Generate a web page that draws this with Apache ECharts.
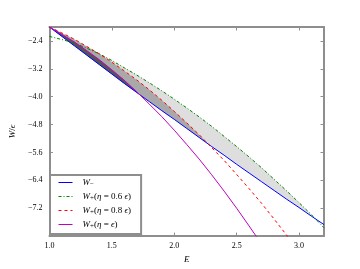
<!DOCTYPE html>
<html><head><meta charset="utf-8">
<script src="https://cdn.jsdelivr.net/npm/echarts@6/dist/echarts.min.js"></script>
<style>html,body{margin:0;padding:0;background:#fff}#c{width:360px;height:269px}</style>
</head><body><div id="c"></div>
<script>
// Energy grid E
const energy = [1.0,1.1,1.2,1.3,1.4,1.5,1.6,1.7,1.8,1.9,2.0,2.1,2.2,2.3,2.4,2.5,2.6,2.7,2.8,2.9,3.0,3.1,3.2];
// W_- / eps
const wMinus = [-2.00,-2.27,-2.54,-2.81,-3.08,-3.35,-3.62,-3.88,-4.14,-4.40,-4.65,-4.91,-5.17,-5.43,-5.68,-5.94,-6.19,-6.44,-6.69,-6.94,-7.18,-7.43,-7.67];
// W_+ (eta = 0.6 eps)
const wPlus06 = [-2.27,-2.36,-2.46,-2.61,-2.77,-2.96,-3.17,-3.38,-3.60,-3.83,-4.07,-4.32,-4.58,-4.85,-5.14,-5.43,-5.73,-6.04,-6.37,-6.70,-7.04,-7.39,-7.76];
// W_+ (eta = 0.8 eps)
const wPlus08 = [-2.00,-2.17,-2.35,-2.56,-2.77,-3.01,-3.26,-3.52,-3.80,-4.10,-4.42,-4.75,-5.09,-5.46,-5.83,-6.23,-6.64,-7.06,-7.51,-7.97,-8.45];
// W_+ (eta = eps)
const wPlus1 = [-2.00,-2.21,-2.43,-2.68,-2.94,-3.23,-3.53,-3.86,-4.21,-4.57,-4.96,-5.37,-5.79,-6.24,-6.71,-7.20,-7.71,-8.23];
// tick settings
const xTicks = {min:1.0, max:3.2, interval:0.5};
const yTicks = {min:-8.0, max:-2.0, interval:0.8};

const FONT = 'Liberation Serif';
const FRAME = '#8e8e8e';

function pairs(v){ return v.map((y,i)=>[energy[i], y]); }
function band(upper, lower){
  const n = Math.min(upper.length, lower.length);
  const top = [];
  for(let i=0;i<n;i++){
    const du = upper[i]-lower[i];
    top.push([energy[i], Math.max(upper[i], lower[i])]);
    if(i<n-1){
      const dn = upper[i+1]-lower[i+1];
      if(du!==0 && dn!==0 && (du>0)!==(dn>0)){
        const t = du/(du-dn);
        top.push([energy[i]+t*(energy[i+1]-energy[i]), lower[i]+t*(lower[i+1]-lower[i])]);
      }
    }
  }
  const bottom = [];
  for(let i=n-1;i>=0;i--) bottom.push([energy[i], lower[i]]);
  return top.concat(bottom);
}
function fillSeries(upper, color){
  const poly = band(upper, wMinus);
  return {
    type:'custom', coordinateSystem:'cartesian2d', silent:true, z:1, clip:true,
    data:[[energy[0], wMinus[0]]],
    renderItem:(params, api)=>({type:'polygon', shape:{points: poly.map(p=>api.coord(p))}, style:{fill:color}})
  };
}
function lineSeries(name, vals, color, type){
  return {name, type:'line', data:pairs(vals), symbol:'none', z:3, clip:true,
    lineStyle:{color, width:1, type}, itemStyle:{color}};
}
const rich = {
  i:{fontFamily:FONT, fontStyle:'italic', fontSize:9, color:'#000'},
  n:{fontFamily:FONT, fontSize:9, color:'#000'},
  s:{fontFamily:FONT, fontSize:7, color:'#000', verticalAlign:'bottom', padding:[4,0,0,0]}
};
const legendLabels = {
  'Wm':'{i|W}{s|−}',
  'W06':'{i|W}{s|+}{n|(}{i|η}{n| = 0.6 }{i|ϵ}{n|)}',
  'W08':'{i|W}{s|+}{n|(}{i|η}{n| = 0.8 }{i|ϵ}{n|)}',
  'W1':'{i|W}{s|+}{n|(}{i|η}{n| = }{i|ϵ}{n|)}'
};
const axisCommon = {
  type:'value', splitLine:{show:false},
  axisLine:{show:true, onZero:false, lineStyle:{color:FRAME, width:2}},
  axisTick:{show:true, inside:true, length:3.5, lineStyle:{color:FRAME, width:1}}
};
const chart = echarts.init(document.getElementById('c'), null, {renderer:'canvas'});
chart.setOption({
  animation:false,
  backgroundColor:'#fff',
  grid:{left:45, right:36, top:27, bottom:27},
  xAxis:[
    Object.assign({}, axisCommon, xTicks, {position:'bottom',
      axisLabel:{fontFamily:FONT, fontSize:8, color:'#000', margin:6, showMaxLabel:false,
        formatter:v=>v.toFixed(1)},
      name:'E', nameLocation:'middle', nameGap:16,
      nameTextStyle:{fontFamily:FONT, fontStyle:'italic', fontSize:9, color:'#000'}}),
    Object.assign({}, axisCommon, xTicks, {position:'top', axisLabel:{show:false}})
  ],
  yAxis:[
    Object.assign({}, axisCommon, yTicks, {position:'left',
      axisLabel:{fontFamily:FONT, fontSize:8, color:'#000', margin:7, showMinLabel:false, showMaxLabel:false,
        formatter:v=>(v<0?'−':'')+Math.abs(v).toFixed(1)},
      name:'{i|W}{n|/}{i|ϵ}', nameLocation:'middle', nameGap:31,
      nameTextStyle:{rich}}),
    Object.assign({}, axisCommon, yTicks, {position:'right', axisLabel:{show:false}})
  ],
  legend:{
    orient:'vertical', left:50, top:175, padding:[3,10,4,8], itemGap:4,
    itemWidth:14, itemHeight:10,
    itemStyle:{opacity:0},
    lineStyle:{width:1},
    borderColor:FRAME, borderWidth:2, borderRadius:0, backgroundColor:'#fff',
    data:['Wm','W06','W08','W1'],
    formatter:n=>legendLabels[n],
    textStyle:{rich, padding:[0,0,0,5]}
  },
  series:[
    fillSeries(wPlus06, '#dedede'),
    fillSeries(wPlus08, '#a9a9a9'),
    fillSeries(wPlus1, '#555555'),
    lineSeries('Wm', wMinus, '#0000ff', 'solid'),
    lineSeries('W06', wPlus06, '#008000', [3,2,1,2]),
    lineSeries('W08', wPlus08, '#ff0000', [3,3]),
    lineSeries('W1', wPlus1, '#bf00bf', 'solid')
  ]
});
</script></body></html>
